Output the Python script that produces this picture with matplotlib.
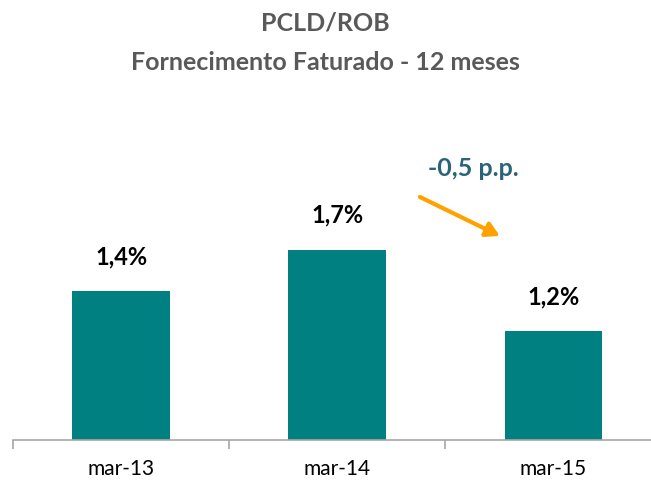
import matplotlib.pyplot as plt

plt.rcParams['font.family'] = ['Lato', 'DejaVu Sans']

# dados
categorias = ['mar-13', 'mar-14', 'mar-15']
valores = [1.43, 1.69, 1.18]  # PCLD/ROB (%)
variacao = '-0,5 p.p.'

cor_barra = '#008080'
cor_titulo = '#595959'
cor_eixo = '#A6A6A6'

fig = plt.figure(figsize=(6.51, 4.83), dpi=100)
ax = fig.add_axes([13 / 651, 43 / 483, 648.6 / 651, 320 / 483])

x = range(len(categorias))
barras = ax.bar(x, valores, width=0.453, color=cor_barra)

# rótulos das barras
for b, v in zip(barras, valores):
    ax.annotate(f'{v:.1f}%'.replace('.', ','),
                (b.get_x() + b.get_width() / 2, b.get_height()),
                xytext=(0, 25), textcoords='offset points',
                ha='center', va='center', fontsize=17, fontweight='bold', color='black')

ax.set_xlim(-0.5, len(categorias) - 0.5)
ax.set_ylim(0.5, 2.5)

# eixo
for s in ['top', 'right', 'left']:
    ax.spines[s].set_visible(False)
ax.spines['bottom'].set_color(cor_eixo)
ax.spines['bottom'].set_linewidth(1.2)
ax.set_yticks([])
ax.set_xticks(list(x))
ax.set_xticklabels(categorias, fontsize=15, color='black')
ax.tick_params(axis='x', which='major', length=0, pad=14)
ax.set_xticks([i - 0.5 for i in range(len(categorias) + 1)], minor=True)
ax.tick_params(axis='x', which='minor', length=6.5, width=1.2, color=cor_eixo)

# seta de variação
ax.annotate('', xy=(1.752, 1.775), xytext=(1.382, 2.019),
            arrowprops=dict(arrowstyle='-|>,head_length=0.8,head_width=0.45',
                            color='#FFA200', lw=3, shrinkA=0, shrinkB=0))
ax.text(1.628, 2.2, variacao, ha='center', va='center',
        fontsize=18, fontweight='bold', color='#2A6478')

# título
fig.text(0.5, 1 - 23 / 483, 'PCLD/ROB', ha='center', va='center',
         fontsize=18, fontweight='bold', color=cor_titulo)
fig.text(0.5, 1 - 63 / 483, 'Fornecimento Faturado - 12 meses', ha='center', va='center',
         fontsize=18, fontweight='bold', color=cor_titulo)

fig.savefig('out.png', dpi=100)
